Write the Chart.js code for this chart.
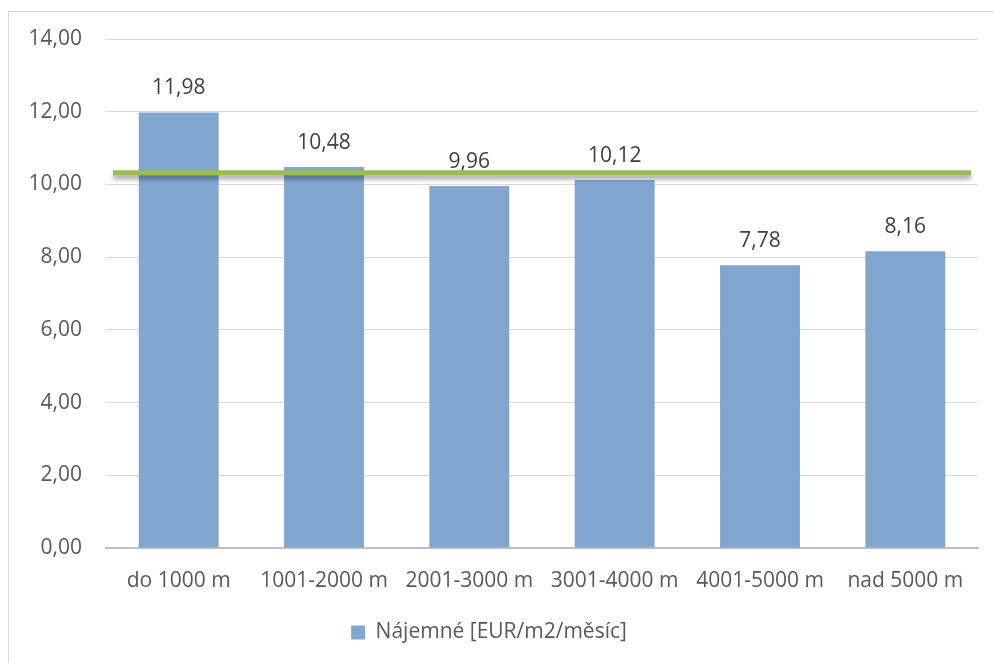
<!DOCTYPE html>
<html>
<head>
    <meta charset="utf-8">
    <title>Nájemné podle vzdálenosti</title>
    <style>
        html, body {
            margin: 0;
            padding: 0;
            background: #ffffff;
            overflow: hidden;
        }
        #frame {
            position: absolute;
            left: 8px;
            top: 11px;
            width: 1100px;
            height: 800px;
            border: 1.5px solid #D9D9D9;
        }
        #wrap {
            position: absolute;
            left: 0;
            top: 0;
            width: 994px;
            height: 663px;
        }
    </style>
    <script src="https://cdn.jsdelivr.net/npm/chart.js"></script>
</head>
<body>
    <div id="frame"></div>
    <div id="wrap"><canvas id="rentChart" width="994" height="663"></canvas></div>
    <script>
        const categories = ['do 1000 m', '1001-2000 m', '2001-3000 m', '3001-4000 m', '4001-5000 m', 'nad 5000 m'];
        const rentValues = [11.98, 10.48, 9.96, 10.12, 7.78, 8.16];
        const seriesLabel = 'Nájemné [EUR/m2/měsíc]';
        const averageRent = 10.32;
        const yTicks = [0, 2, 4, 6, 8, 10, 12, 14];

        const fontFamily = '"Open Sans", "Noto Sans", sans-serif';
        const fmt = v => v.toFixed(2).replace('.', ',');

        // value labels above each bar
        const valueLabels = {
            id: 'valueLabels',
            afterDatasetsDraw(chart) {
                const ctx = chart.ctx;
                const meta = chart.getDatasetMeta(0);
                ctx.save();
                ctx.font = '21px ' + fontFamily;
                ctx.fillStyle = '#404040';
                ctx.textAlign = 'center';
                ctx.textBaseline = 'alphabetic';
                meta.data.forEach((bar, i) => {
                    ctx.fillText(fmt(rentValues[i]), bar.x, bar.y - 18);
                });
                ctx.restore();
            }
        };

        // horizontal average line with a soft shadow
        const averageLine = {
            id: 'averageLine',
            afterDatasetsDraw(chart) {
                const ctx = chart.ctx;
                const area = chart.chartArea;
                const y = chart.scales.y.getPixelForValue(averageRent);
                ctx.save();
                ctx.shadowColor = 'rgba(0,0,0,0.35)';
                ctx.shadowBlur = 4;
                ctx.shadowOffsetY = 4;
                ctx.strokeStyle = '#9BBB59';
                ctx.lineWidth = 5;
                ctx.beginPath();
                ctx.moveTo(area.left + 7, y);
                ctx.lineTo(area.right - 7, y);
                ctx.stroke();
                ctx.restore();
            }
        };

        new Chart(document.getElementById('rentChart'), {
            type: 'bar',
            data: {
                labels: categories,
                datasets: [{
                    label: seriesLabel,
                    data: rentValues,
                    backgroundColor: '#81A7D1',
                    borderWidth: 0,
                    categoryPercentage: 1,
                    barPercentage: 0.55
                }]
            },
            options: {
                responsive: false,
                animation: false,
                layout: {
                    padding: { top: 39, right: 16, bottom: 10, left: 0 }
                },
                plugins: {
                    tooltip: { enabled: false },
                    legend: {
                        position: 'bottom',
                        labels: {
                            boxWidth: 14,
                            boxHeight: 14,
                            color: '#595959',
                            font: { family: fontFamily, size: 21 },
                            padding: 10
                        }
                    }
                },
                scales: {
                    x: {
                        grid: { display: false },
                        border: { color: '#BFBFBF', width: 2 },
                        ticks: {
                            color: '#595959',
                            font: { family: fontFamily, size: 21 },
                            maxRotation: 0,
                            autoSkip: false,
                            padding: 12
                        },
                        afterFit(scale) { scale.height = 64; }
                    },
                    y: {
                        min: 0,
                        max: 14,
                        grid: { color: '#D9D9D9', lineWidth: 1, drawTicks: false },
                        border: { display: false },
                        afterBuildTicks(scale) {
                            scale.ticks = yTicks.map(v => ({ value: v }));
                        },
                        ticks: {
                            color: '#595959',
                            font: { family: fontFamily, size: 21 },
                            padding: 24,
                            callback: v => fmt(v)
                        },
                        afterFit(scale) { scale.width = 106; }
                    }
                }
            },
            plugins: [valueLabels, averageLine]
        });
    </script>
</body>
</html>
